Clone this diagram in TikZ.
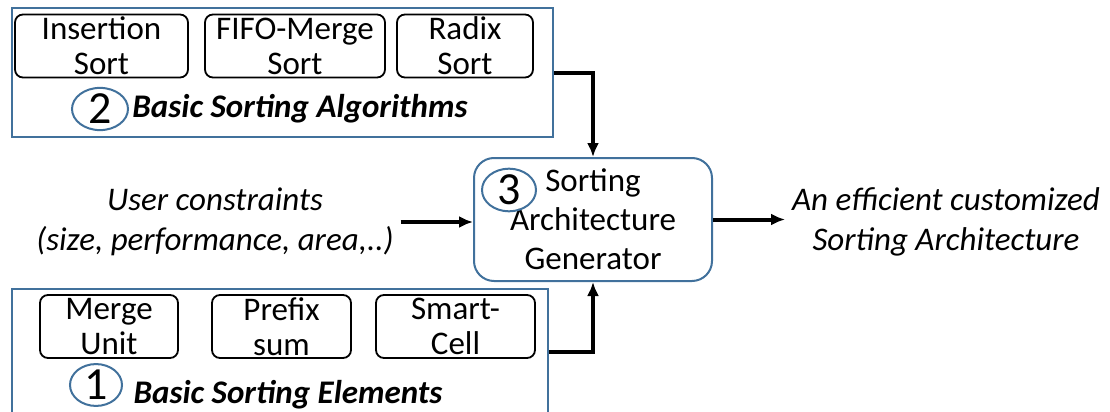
\documentclass[tikz,border=0pt]{standalone}
\usepackage{fontspec}
\setmainfont{Carlito}
\usetikzlibrary{arrows.meta,positioning,shapes.geometric}
\definecolor{boxblue}{RGB}{65,113,156}

\begin{document}
\begin{tikzpicture}[x=0.5pt,y=-0.5pt,
font=\fontsize{16.5}{17.5}\selectfont,
outer/.style={draw=boxblue, line width=1pt, minimum width=#1, minimum height=64.5pt, inner sep=0pt},
unit/.style={draw, rounded corners=4pt, line width=0.9pt, minimum width=#1, minimum height=31.5pt, align=center, inner sep=0pt},
gen/.style={draw=boxblue, rounded corners=10pt, line width=1pt, minimum width=119pt, minimum height=61.5pt, align=center, inner sep=0pt, font=\fontsize{16.5}{19.5}\selectfont},
num/.style={draw=boxblue, ellipse, line width=1pt, minimum width=#1, minimum height=20pt, inner sep=0pt, font=\fontsize{23}{24}\selectfont},
title/.style={font=\fontsize{16.5}{18}\selectfont\bfseries\itshape},
side/.style={align=center, font=\fontsize{16.5}{20}\selectfont\itshape},
arrow/.style={-{Latex[length=7pt,width=6pt]}, line width=2pt}
]
\useasboundingbox (0,0) rectangle (1110,412);

% basic sorting algorithms
\node[outer=270.5pt] (algos) at (282.5,72.5) {};
\node[unit=86.5pt] (ins) at (101.5,46) {Insertion\\Sort};
\node[unit=90pt] (fifo) at (295,46) {FIFO-Merge\\Sort};
\node[unit=68pt] (radix) at (465,46) {Radix\\Sort};
\node[num=28pt] (n2) at (100,109) {2};
\node[title] (algtitle) at (300,109) {Basic Sorting Algorithms};

% basic sorting elements
\node[outer=268pt, minimum height=63pt] (elems) at (280,352) {};
\node[unit=69pt] (merge) at (109,326.5) {Merge\\Unit};
\node[unit=69.5pt] (prefix) at (281.5,326.5) {Prefix\\sum};
\node[unit=79.5pt] (smart) at (455.5,326.5) {Smart-\\Cell};
\node[num=26pt, minimum height=19pt] (n1) at (96,385) {1};
\node[title] (eltitle) at (288,395) {Basic Sorting Elements};

% generator
\node[gen] (gen) at (593,219.5) {Sorting\\Architecture\\Generator};
\node[num=27pt, minimum height=21pt] (n3) at (509,190) {3};

\node[side] (user) at (215,222) {User constraints\\(size, performance, area,..)};
\node[side] (out) at (946,222) {An efficient customized\\Sorting Architecture};

\draw[arrow] (algos.east) -| (gen.north);
\draw[arrow] (elems.east) -| (gen.south);
\draw[arrow] (user.east) -- (user.east -| gen.west);
\draw[arrow] (gen.east) -- (gen.east -| out.west);
\end{tikzpicture}
\end{document}
